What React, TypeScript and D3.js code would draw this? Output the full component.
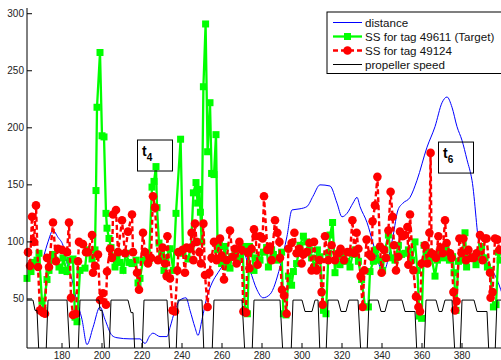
import React from "react";
import * as d3 from "d3";

// [time, value]
const distance: [number, number][] = [
  [171, 88], [173, 100], [175.5, 110], [178, 104], [180.5, 97], [183, 78], [185, 67],
  [187, 51], [190, 32], [192.5, 10], [195.5, 25], [199, 43], [201.5, 32], [205, 18],
  [207.5, 16], [214, 15], [219, 15], [221.5, 11], [224, 18], [225.5, 20], [229, 17],
  [232.5, 17], [234, 25], [236.5, 40], [239, 49], [242, 51], [244, 40], [246.5, 25],
  [248, 18], [250, 32], [252.5, 52], [255, 64], [258, 73], [262.5, 84], [267, 92],
  [270, 93], [274, 75], [277.5, 58], [280.5, 51], [284, 54], [289, 78], [292.5, 105],
  [295, 128], [299, 129], [302.5, 131], [305.5, 140], [309, 150], [314, 149],
  [317.5, 134], [320, 122], [322.5, 125], [325.5, 134], [327.5, 139], [329, 131],
  [332.5, 117], [335.5, 99], [339, 78], [340.5, 73], [343, 84], [345.5, 105], [348, 128],
  [350.5, 134], [354, 139], [357.5, 154], [362.5, 183], [366.5, 201], [370, 222],
  [372.5, 227], [375, 218], [377.5, 201], [380, 189], [382.5, 172], [385, 154],
  [389, 93], [392.5, 82], [397.5, 67], [400, 55],
];

const ssTarget: [number, number][] = [
  [162.5, 68], [164.5, 74], [165.5, 82], [167.5, 84], [168.5, 90], [170, 48], [170.5, 40],
  [172.5, 67], [173.5, 75], [175.5, 89], [176.5, 84], [178.5, 78], [180, 75], [180.5, 86],
  [182.5, 74], [184, 84], [185.5, 85], [186.5, 34], [187.5, 30], [189, 75], [191.5, 77],
  [192.5, 93], [195, 85], [196.5, 93], [197, 145], [197.5, 218], [199, 266], [200, 193],
  [201, 192], [202, 125], [202.5, 112], [203.5, 103], [204.5, 95], [206.5, 78], [207.5, 87],
  [209, 82], [210.5, 75], [212, 90], [213.5, 82], [215, 81], [217, 84], [218, 64], [219, 68],
  [220.5, 84], [222.5, 90], [223.5, 84], [225, 148], [226, 153], [227, 166], [227.5, 130],
  [228.5, 99], [229.8, 90], [231, 75], [232, 86], [234, 94], [235.7, 75], [237, 125],
  [239.3, 190], [240.5, 90], [243, 85], [244.5, 95], [245.7, 143], [247, 152], [247.8, 134],
  [248.7, 146], [249.2, 126], [249.8, 100], [250.7, 236], [251.8, 291], [252.8, 179],
  [254, 222], [254.8, 160], [256, 159], [257, 194], [257.8, 93], [258.7, 97], [259.8, 81],
  [261.5, 96], [262.3, 78], [264, 77], [264.8, 87], [266.5, 90], [267.7, 84], [269, 86],
  [270.3, 96], [271.5, 40], [272.7, 37], [273.7, 96], [274.8, 93], [276, 75], [277.3, 86],
  [279, 84], [280.7, 91], [282.3, 95], [283.2, 78], [284.8, 93], [285.7, 89], [287.3, 84],
  [288.7, 86], [289.8, 91], [290.7, 37], [292, 36], [293.2, 70], [294.8, 62], [295.7, 74],
  [297.3, 81], [299, 97], [300.7, 105], [302.3, 100], [303.7, 93], [304.8, 86], [306.5, 78],
  [307.7, 93], [309, 87], [310.7, 40], [312, 37], [313.2, 90], [314, 106], [315.3, 117],
  [316.5, 73], [317.3, 87], [319, 80], [320.7, 89], [322.3, 83], [324, 78], [325.3, 89],
  [326.5, 93], [328.2, 83], [329.8, 67], [331.5, 43], [333.2, 43], [334, 74], [335.7, 83],
  [337, 93], [338.7, 84], [340.3, 75], [341.5, 93], [343.2, 106], [344.8, 86], [346.5, 84],
  [348.2, 97], [349.8, 89], [351.5, 90], [353.2, 93], [354.8, 84], [356.5, 100], [357.7, 75],
  [358.7, 35], [359.8, 33], [361, 97], [362.3, 87], [363.7, 91], [364.8, 86], [366.5, 70],
  [367.7, 84], [369, 90], [370.7, 86], [372, 94], [373.7, 84], [375.3, 87], [376, 73],
  [377, 40], [378.2, 83], [379.8, 84], [381.5, 108], [382.3, 78], [383.7, 86], [385.3, 87],
  [387, 80], [388.2, 87], [389.8, 96], [391.5, 86], [392.7, 78], [394, 75], [395.7, 43],
  [397, 45], [398.2, 91], [399, 84],
];

const ssOther: [number, number][] = [
  [163, 91], [164, 79], [165, 122], [166, 100], [167, 132], [168, 78], [169, 40], [170.5, 38],
  [171.5, 37], [172.5, 86], [173.5, 78], [175.5, 117], [177, 83], [178, 94], [180, 93],
  [182.5, 91], [183.5, 117], [184.5, 51], [185.5, 36], [187, 37], [188, 83], [188.5, 100],
  [190.5, 98], [192, 91], [193, 91], [195, 106], [195.5, 73], [196.5, 79], [198, 89],
  [199, 49], [200.5, 55], [202, 45], [202.5, 74], [204, 94], [205, 86], [205.5, 124],
  [207, 128], [208, 91], [210, 119], [211.5, 90], [213, 109], [215, 124], [215.5, 91],
  [217.5, 73], [218.5, 58], [220.5, 108], [221.5, 91], [223, 81], [224.5, 86], [225.5, 140],
  [226.5, 130], [228, 84], [230.3, 95], [231.5, 81], [232.3, 70], [232.7, 105], [234, 68],
  [235.3, 40], [236.5, 39], [237.7, 75], [238.2, 91], [240.3, 93], [241.5, 73], [242.3, 95],
  [244, 94], [244.8, 108], [245.7, 84], [246.5, 116], [247.3, 100], [248.7, 91], [249.5, 81],
  [250.7, 116], [251.5, 71], [252.8, 43], [253.7, 73], [254.8, 86], [256, 100], [257.3, 84],
  [259, 103], [259.8, 88], [261, 67], [262.3, 84], [264, 110], [265.3, 87], [266.5, 94],
  [267.3, 81], [268.7, 100], [269.8, 93], [270.7, 39], [272, 38], [272.7, 91], [273.7, 77],
  [274.8, 94], [276, 111], [276.8, 105], [277.8, 80], [279, 105], [280.3, 103], [281, 140],
  [282.7, 93], [284, 96], [284.8, 84], [286.5, 119], [287.7, 108], [288.7, 100], [289, 86],
  [290, 58], [291, 53], [292.3, 37], [293.2, 94], [294.8, 99], [296.2, 108], [297.3, 90],
  [298.7, 94], [299.8, 81], [300.7, 89], [302.3, 91], [303.7, 99], [304.8, 75], [306, 100],
  [307.3, 75], [308.7, 84], [309.8, 56], [310.3, 45], [311.5, 105], [313.2, 84], [314.8, 97],
  [316.5, 84], [318.2, 90], [319.3, 94], [321, 84], [322.7, 91], [324, 91], [325.2, 119],
  [326.2, 90], [327.3, 108], [328.2, 94], [329.3, 70], [330.3, 43], [331.2, 75], [332.3, 102],
  [333.7, 89], [334.8, 87], [335.3, 118], [336.5, 132], [337.7, 157], [339, 96], [339.8, 73],
  [341, 93], [342, 86], [343.2, 110], [344.3, 144], [345.3, 122], [346, 97], [347, 75],
  [348.2, 87], [349, 109], [350.3, 105], [351.5, 106], [352.7, 113], [353.2, 80], [354, 124],
  [355.7, 75], [357, 52], [358.2, 43], [359, 39], [359.8, 81], [361.5, 97], [362.7, 81],
  [363.7, 108], [364.3, 178], [364.8, 90], [365.7, 89], [367, 86], [368.2, 105], [369.3, 95],
  [370.3, 90], [371.5, 119], [372.3, 99], [374, 90], [374.8, 86], [375.7, 56], [376.5, 40],
  [377.3, 48], [378.7, 103], [379.8, 90], [380.7, 103], [382, 84], [383.2, 93], [384.8, 86],
  [386, 86], [387.3, 90], [389, 106], [390.3, 84], [391.5, 103], [392.3, 103], [394, 73],
  [394.3, 51], [395.3, 56], [396.5, 103], [397.7, 102], [398.7, 93],
];

const propeller: [number, number][] = [
  [162, 49], [165.5, 49], [166.5, 40], [167.5, 40], [168.5, 0], [172, 0], [173, 49],
  [182.5, 49], [184, 0], [188, 0], [189, 49], [198.5, 49], [199, 40], [200, 40], [201.5, 0],
  [203.5, 0], [204.5, 49], [213, 49], [214.5, 38], [215.5, 38], [216.5, 0], [220, 0],
  [221, 49], [232.5, 49], [234, 0], [237, 0], [238, 49], [250, 49], [251, 0], [255, 0],
  [256, 49], [270, 49], [271.5, 0], [275, 0], [276, 49], [289, 49], [290.5, 0], [294.5, 0],
  [295.5, 49], [300, 49], [301.5, 39], [305, 39], [306.5, 49], [308, 49], [309, 0], [312, 0],
  [313, 49], [318, 49], [319.5, 39], [322, 39], [323.5, 49], [328, 49], [329.5, 0],
  [332.5, 0], [333.5, 49], [338, 49], [339.5, 39], [341.5, 39], [343, 49], [350, 49],
  [351.5, 39], [356.5, 39], [357.5, 0], [361, 0], [362, 49], [367, 49], [368.5, 39],
  [370, 39], [371.5, 49], [375, 49], [376.5, 0], [379, 0], [380, 49], [386, 49],
  [387.5, 39], [392.5, 39], [393.5, 0], [396.5, 0], [397.5, 49], [401, 49],
];

const xTicks = [180, 200, 220, 240, 260, 280, 300, 320, 340, 360, 380];
const yTicks = [50, 100, 150, 200, 250, 300];
const legendLabels = [
  "distance",
  "SS for tag 49611 (Target)",
  "SS for tag 49124",
  "propeller speed",
];
// text boxes: centre time, value at the top edge
const notes = [
  { t: 226.5, v: 189.3, sub: "4" },
  { t: 377, v: 187.5, sub: "6" },
];

const W = 501;
const H = 360;
const FONT = "'Liberation Sans', Arial, Helvetica, sans-serif";

export default function App() {
  const left = 27, right = 502, top = 8, bottom = 348;
  const x = d3.scaleLinear().domain([162.5, 400]).range([left, right]);
  const y = d3.scaleLinear().domain([7, 305]).range([bottom, top]);

  const line = d3
    .line<[number, number]>()
    .x((d) => x(d[0]))
    .y((d) => y(d[1]));
  const smoothPath = d3
    .line<[number, number]>()
    .x((d) => x(d[0]))
    .y((d) => y(d[1]))
    .curve(d3.curveMonotoneX)(distance) as string;

  const inside = (d: [number, number]) => x(d[0]) >= left - 1 && x(d[0]) <= W + 4;

  return (
    <svg
      width={W}
      height={H}
      style={{ position: "absolute", left: 0, top: 0, background: "#fff" }}
      fontFamily={FONT}
    >
      <defs>
        <clipPath id="plot">
          <rect x={left} y={top} width={right - left} height={bottom - top} />
        </clipPath>
      </defs>

      <g clipPath="url(#plot)">
        <path d={smoothPath} fill="none" stroke="#0000ff" strokeWidth={1} />
        <path d={line(ssTarget) as string} fill="none" stroke="#00ff00" strokeWidth={2.3} />
      </g>
      {ssTarget.filter(inside).map((d, i) => (
        <rect key={"g" + i} x={x(d[0]) - 3.5} y={y(d[1]) - 3.5} width={7} height={7} fill="#00ff00" />
      ))}
      <g clipPath="url(#plot)">
        <path
          d={line(ssOther) as string}
          fill="none"
          stroke="#ff0000"
          strokeWidth={2.4}
          strokeDasharray="5,3"
        />
      </g>
      {ssOther.filter(inside).map((d, i) => (
        <circle key={"r" + i} cx={x(d[0])} cy={y(d[1])} r={4.3} fill="#ff0000" />
      ))}
      <g clipPath="url(#plot)">
        <path d={line(propeller) as string} fill="none" stroke="#000" strokeWidth={1} />
      </g>

      {/* annotation boxes */}
      {notes.map((n) => (
        <g key={n.sub}>
          <rect
            x={x(n.t) - 17.5}
            y={y(n.v)}
            width={35}
            height={31}
            fill="none"
            stroke="#000"
            strokeWidth={1}
          />
          <text x={x(n.t) - 13} y={y(n.v) + 15.5} fontSize={14} fontWeight="bold">
            t
          </text>
          <text x={x(n.t) - 8.3} y={y(n.v) + 21} fontSize={10} fontWeight="bold">
            {n.sub}
          </text>
        </g>
      ))}

      {/* axes */}
      <line x1={left} x2={left} y1={top} y2={bottom} stroke="#000" />
      <line x1={left} x2={W} y1={bottom} y2={bottom} stroke="#000" />
      {yTicks.map((t) => (
        <g key={"y" + t}>
          <line x1={left} x2={left + 5} y1={y(t)} y2={y(t)} stroke="#000" />
          <text x={left - 3} y={y(t)} dy="0.35em" textAnchor="end" fontSize={10} fill="#222">
            {t}
          </text>
        </g>
      ))}
      {xTicks.map((t) => (
        <g key={"x" + t}>
          <line x1={x(t)} x2={x(t)} y1={bottom} y2={bottom - 5} stroke="#000" />
          <text x={x(t)} y={358.5} textAnchor="middle" fontSize={10} fill="#222">
            {t}
          </text>
        </g>
      ))}

      {/* legend */}
      <g>
        <rect x={327} y={12} width={190} height={61.5} fill="#fff" stroke="#000" strokeWidth={1} />
        {legendLabels.map((lab, i) => {
          const ly = 22.5 + i * 14;
          return (
            <g key={lab}>
              {i === 0 && <line x1={333} x2={362} y1={ly} y2={ly} stroke="#0000ff" />}
              {i === 1 && (
                <>
                  <line x1={333} x2={362} y1={ly} y2={ly} stroke="#00ff00" strokeWidth={2.3} />
                  <rect x={344} y={ly - 3.5} width={7} height={7} fill="#00ff00" />
                </>
              )}
              {i === 2 && (
                <>
                  <line
                    x1={333}
                    x2={362}
                    y1={ly}
                    y2={ly}
                    stroke="#ff0000"
                    strokeWidth={2.4}
                    strokeDasharray="5,3"
                  />
                  <circle cx={347.5} cy={ly} r={4.3} fill="#ff0000" />
                </>
              )}
              {i === 3 && <line x1={333} x2={362} y1={ly} y2={ly} stroke="#000" />}
              <text x={365} y={ly + 4} fontSize={11.6} fill="#111">
                {lab}
              </text>
            </g>
          );
        })}
      </g>
    </svg>
  );
}
